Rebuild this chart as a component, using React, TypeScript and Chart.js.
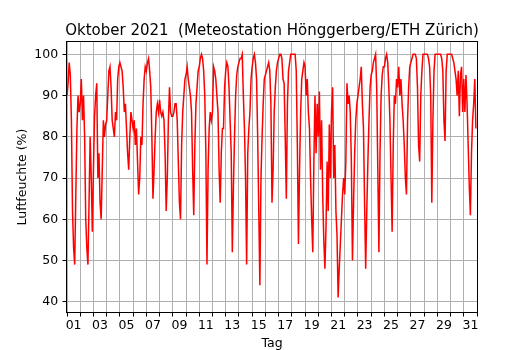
import React, { useEffect, useRef } from 'react';
import { Chart, registerables } from 'chart.js';

Chart.register(...registerables);

const titleText = 'Oktober 2021  (Meteostation Hönggerberg/ETH Zürich)';
const xAxisLabel = 'Tag';
const yAxisLabel = 'Luftfeuchte (%)';
const xTickLabels = ['01', '03', '05', '07', '09', '11', '13', '15', '17', '19', '21', '23', '25', '27', '29', '31'];
const yTickValues = [40, 50, 60, 70, 80, 90, 100];
const daysInMonth = 31;
const stepHours = 2; // one reading every 2 hours, starting 1 Oct 00:00
const yMin = 37.5;
const yMax = 103;

// relative humidity (%), 12 readings per day
const humidity = [
  /* 01 */ 90, 93, 98, 95, 84, 62, 53, 49, 66, 82, 90, 86,
  /* 02 */ 88, 94, 84, 90, 80, 60, 53, 49, 64, 80, 70, 57,
  /* 03 */ 72, 85, 90, 93, 70, 76, 64, 60, 72, 84, 80, 83,
  /* 04 */ 84, 90, 96, 97, 92, 84, 82, 80, 86, 84, 94, 97,
  /* 05 */ 98, 97, 96, 92, 86, 88, 82, 76, 72, 80, 86, 84,
  /* 06 */ 82, 84, 78, 82, 74, 66, 70, 80, 78, 88, 94, 97,
  /* 07 */ 96, 98, 99, 96, 92, 80, 65, 72, 80, 86, 88, 86,
  /* 08 */ 89, 86, 85, 86, 84, 76, 62, 70, 84, 92, 86, 85,
  /* 09 */ 85, 86, 88, 88, 84, 74, 64, 60, 78, 86, 90, 94,
  /* 10 */ 95, 97, 94, 92, 90, 86, 72, 61, 78, 88, 92, 96,
  /* 11 */ 97, 99, 100, 99, 96, 90, 76, 49, 72, 82, 86, 84,
  /* 12 */ 86, 97, 96, 94, 90, 86, 72, 64, 76, 82, 82, 92,
  /* 13 */ 96, 98, 97, 92, 84, 76, 52, 68, 80, 90, 95, 97,
  /* 14 */ 98, 99, 99, 100, 90, 82, 70, 49, 76, 82, 86, 94,
  /* 15 */ 97, 99, 100, 98, 94, 80, 62, 44, 70, 80, 88, 94,
  /* 16 */ 95, 96, 97, 98, 96, 88, 64, 72, 86, 92, 96, 98,
  /* 17 */ 99, 100, 100, 99, 94, 93, 80, 65, 88, 96, 98, 100,
  /* 18 */ 100, 100, 100, 100, 96, 78, 54, 72, 86, 94, 96, 98,
  /* 19 */ 97, 90, 94, 86, 82, 70, 60, 52, 74, 90, 76, 88,
  /* 20 */ 80, 91, 72, 84, 66, 55, 48, 58, 74, 62, 83, 70,
  /* 21 */ 86, 92, 70, 78, 62, 56, 41, 48, 54, 60, 66, 70,
  /* 22 */ 66, 74, 93, 88, 90, 86, 74, 50, 64, 76, 84, 88,
  /* 23 */ 90, 92, 94, 97, 88, 82, 64, 48, 62, 74, 84, 92,
  /* 24 */ 95, 96, 98, 99, 100, 92, 72, 52, 76, 90, 95, 97,
  /* 25 */ 97, 99, 100, 98, 92, 84, 70, 57, 78, 90, 88, 94,
  /* 26 */ 92, 97, 90, 94, 88, 84, 78, 70, 66, 84, 92, 97,
  /* 27 */ 98, 99, 100, 100, 100, 99, 92, 78, 74, 90, 96, 100,
  /* 28 */ 100, 100, 100, 100, 99, 97, 90, 64, 84, 96, 100, 100,
  /* 29 */ 100, 100, 100, 100, 99, 96, 84, 79, 96, 100, 100, 100,
  /* 30 */ 100, 100, 99, 98, 96, 94, 90, 96, 85, 95, 97, 86,
  /* 31 */ 94, 86, 95, 88, 78, 68, 61, 76, 84, 88, 94, 82,
];

const FONT = "'DejaVu Sans', 'Liberation Sans', sans-serif";

export default function App() {
  const ref = useRef<HTMLCanvasElement>(null);

  useEffect(() => {
    document.body.style.margin = '0';
    const canvas = ref.current;
    if (!canvas) return;

    const points = humidity.map((v, i) => ({ x: (i * stepHours) / 24, y: v }));

    const labelAt = new Map<number, string>();
    xTickLabels.forEach((l) => labelAt.set(Number(l) - 0.5, l));
    const xTickValues = [
      ...Array.from({ length: daysInMonth + 1 }, (_, d) => d),
      ...Array.from(labelAt.keys()),
    ].sort((a, b) => a - b);

    const frameAndText = {
      id: 'frameAndText',
      afterDraw(chart: any) {
        const { ctx, chartArea: a } = chart;
        ctx.save();
        ctx.strokeStyle = '#000';
        ctx.lineWidth = 1;
        ctx.strokeRect(a.left - 0.5, a.top - 0.5, a.right - a.left + 1, a.bottom - a.top + 1);
        ctx.fillStyle = '#000';
        ctx.textAlign = 'center';
        ctx.textBaseline = 'alphabetic';
        const cx = (a.left + a.right) / 2;
        ctx.font = `15px ${FONT}`;
        ctx.fillText(titleText, cx, a.top - 7.5);
        ctx.font = `12.5px ${FONT}`;
        ctx.fillText(xAxisLabel, cx, a.bottom + 34.5);
        ctx.translate(26.4, (a.top + a.bottom) / 2);
        ctx.rotate(-Math.PI / 2);
        ctx.fillText(yAxisLabel, 0, 0);
        ctx.restore();
      },
    };

    const chart = new Chart(canvas, {
      type: 'line',
      data: {
        datasets: [
          {
            data: points,
            borderColor: '#ff0000',
            borderWidth: 1.5,
            pointRadius: 0,
            tension: 0,
            fill: false,
          },
        ],
      },
      options: {
        animation: false,
        responsive: false,
        devicePixelRatio: 1,
        events: [],
        layout: { padding: { left: 0, right: 53, top: 42, bottom: 0 } },
        plugins: {
          legend: { display: false },
          title: { display: false },
          tooltip: { enabled: false },
        },
        scales: {
          x: {
            type: 'linear',
            min: 0,
            max: daysInMonth,
            afterBuildTicks: (axis: any) => {
              axis.ticks = xTickValues.map((v) => ({ value: v }));
            },
            afterFit: (scale: any) => {
              scale.height = 38;
            },
            border: { display: false },
            grid: {
              color: (c: any) => (Number.isInteger(c.tick?.value) ? '#b0b0b0' : 'rgba(0,0,0,0)'),
              tickColor: (c: any) => (Number.isInteger(c.tick?.value) ? '#000000' : 'rgba(0,0,0,0)'),
              lineWidth: 1,
              tickLength: 4.5,
            },
            ticks: {
              autoSkip: false,
              maxRotation: 0,
              minRotation: 0,
              padding: 2,
              color: '#000',
              font: { family: FONT, size: 12.5 },
              callback: (value: any) => labelAt.get(Number(value)) ?? '',
            },
          },
          y: {
            type: 'linear',
            min: yMin,
            max: yMax,
            afterBuildTicks: (axis: any) => {
              axis.ticks = yTickValues.map((v) => ({ value: v }));
            },
            afterFit: (scale: any) => {
              scale.width = 67;
            },
            border: { display: false },
            grid: {
              color: '#b0b0b0',
              tickColor: '#000000',
              lineWidth: 1,
              tickLength: 4.5,
            },
            ticks: {
              padding: 4.3,
              color: '#000',
              font: { family: FONT, size: 12.5 },
              callback: (value: any) => String(value),
            },
          },
        },
      },
      plugins: [frameAndText],
    });

    return () => chart.destroy();
  }, []);

  return (
    <div style={{ width: 530, height: 350, position: 'relative', background: '#fff' }}>
      <canvas ref={ref} width={530} height={350} style={{ display: 'block' }} />
    </div>
  );
}
